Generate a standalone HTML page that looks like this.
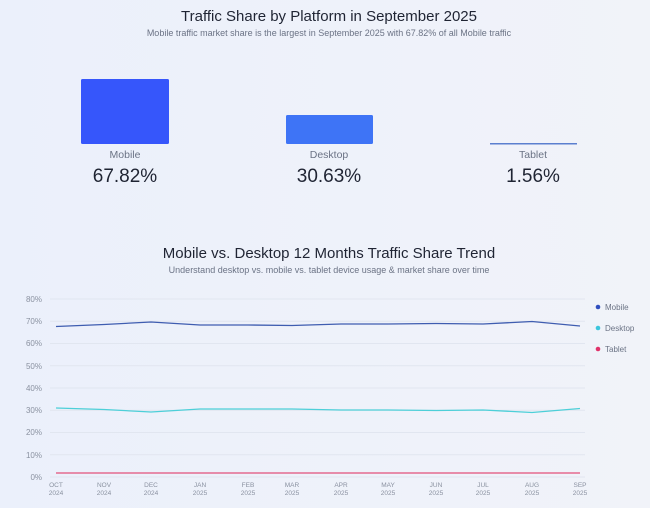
<!DOCTYPE html>
<html><head><meta charset="utf-8"><style>
html,body{margin:0;padding:0;background:#eef2fb;}
svg{display:block;font-family:"Liberation Sans",sans-serif;}
</style></head><body>
<svg width="650" height="508" viewBox="0 0 650 508" xmlns="http://www.w3.org/2000/svg">
<defs><linearGradient id="bg" x1="0" y1="0" x2="1" y2="0"><stop offset="0" stop-color="#ebf0fb"/><stop offset="1" stop-color="#f1f3f9"/></linearGradient></defs>
<rect width="650" height="508" fill="url(#bg)"/>
<text x="329" y="21" text-anchor="middle" font-size="15" fill="#1f2433">Traffic Share by Platform in September 2025</text>
<text x="329" y="36" text-anchor="middle" font-size="9" fill="#6b7385">Mobile traffic market share is the largest in September 2025 with 67.82% of all Mobile traffic</text>
<rect x="81" y="79" width="88" height="65" rx="1.5" fill="#3656fb"/>
<rect x="286" y="115" width="87" height="29" rx="1.5" fill="#3e74f6"/>
<rect x="490" y="143" width="87" height="1.5" fill="#5b7fcf"/>
<g font-size="10.5" fill="#6b7385" text-anchor="middle">
<text x="125" y="158">Mobile</text><text x="329" y="158">Desktop</text><text x="533" y="158">Tablet</text></g>
<g font-size="19" fill="#1f2433" text-anchor="middle">
<text x="125" y="182">67.82%</text><text x="329" y="182">30.63%</text><text x="533" y="182">1.56%</text></g>
<text x="329" y="258" text-anchor="middle" font-size="15" fill="#1f2433">Mobile vs. Desktop 12 Months Traffic Share Trend</text>
<text x="329" y="273" text-anchor="middle" font-size="9" fill="#6b7385">Understand desktop vs. mobile vs. tablet device usage &amp; market share over time</text>
<g stroke="#e1e6f0" stroke-width="1">
<line x1="50" x2="585" y1="299" y2="299"/><line x1="50" x2="585" y1="321.3" y2="321.3"/><line x1="50" x2="585" y1="343.5" y2="343.5"/><line x1="50" x2="585" y1="365.8" y2="365.8"/><line x1="50" x2="585" y1="388" y2="388"/><line x1="50" x2="585" y1="410.3" y2="410.3"/><line x1="50" x2="585" y1="432.5" y2="432.5"/><line x1="50" x2="585" y1="454.8" y2="454.8"/><line x1="50" x2="585" y1="477" y2="477"/></g>
<g font-size="8" fill="#8a91a0" text-anchor="end">
<text x="42" y="302">80%</text><text x="42" y="324">70%</text><text x="42" y="346">60%</text><text x="42" y="369">50%</text><text x="42" y="391">40%</text><text x="42" y="413">30%</text><text x="42" y="435">20%</text><text x="42" y="458">10%</text><text x="42" y="480">0%</text></g>
<g font-size="6.5" fill="#8a91a0" text-anchor="middle">
<text x="56" y="487">OCT</text><text x="56" y="495">2024</text>
<text x="104" y="487">NOV</text><text x="104" y="495">2024</text>
<text x="151" y="487">DEC</text><text x="151" y="495">2024</text>
<text x="200" y="487">JAN</text><text x="200" y="495">2025</text>
<text x="248" y="487">FEB</text><text x="248" y="495">2025</text>
<text x="292" y="487">MAR</text><text x="292" y="495">2025</text>
<text x="341" y="487">APR</text><text x="341" y="495">2025</text>
<text x="388" y="487">MAY</text><text x="388" y="495">2025</text>
<text x="436" y="487">JUN</text><text x="436" y="495">2025</text>
<text x="483" y="487">JUL</text><text x="483" y="495">2025</text>
<text x="532" y="487">AUG</text><text x="532" y="495">2025</text>
<text x="580" y="487">SEP</text><text x="580" y="495">2025</text></g>
<g fill="none" stroke-width="1.3">
<polyline stroke="#3f5db0" points="56,326.5 104,324.5 151,322 200,325 248,325 292,325.5 341,324 388,324 436,323.5 483,324 532,321.5 580,326"/>
<polyline stroke="#4dcfd8" points="56,408 104,409.5 151,412 200,409 248,409 292,409 341,410 388,410 436,410.5 483,410 532,412.5 580,408.5"/>
<polyline stroke="#e24f7a" points="56,473 580,473"/></g>
<circle cx="598" cy="307" r="2.3" fill="#2f4fbf"/><circle cx="598" cy="328" r="2.3" fill="#3cc6dd"/><circle cx="598" cy="349" r="2.3" fill="#e0336a"/>
<g font-size="8" fill="#6b7385"><text x="605" y="310">Mobile</text><text x="605" y="331">Desktop</text><text x="605" y="352">Tablet</text></g>
</svg>
</body></html>
